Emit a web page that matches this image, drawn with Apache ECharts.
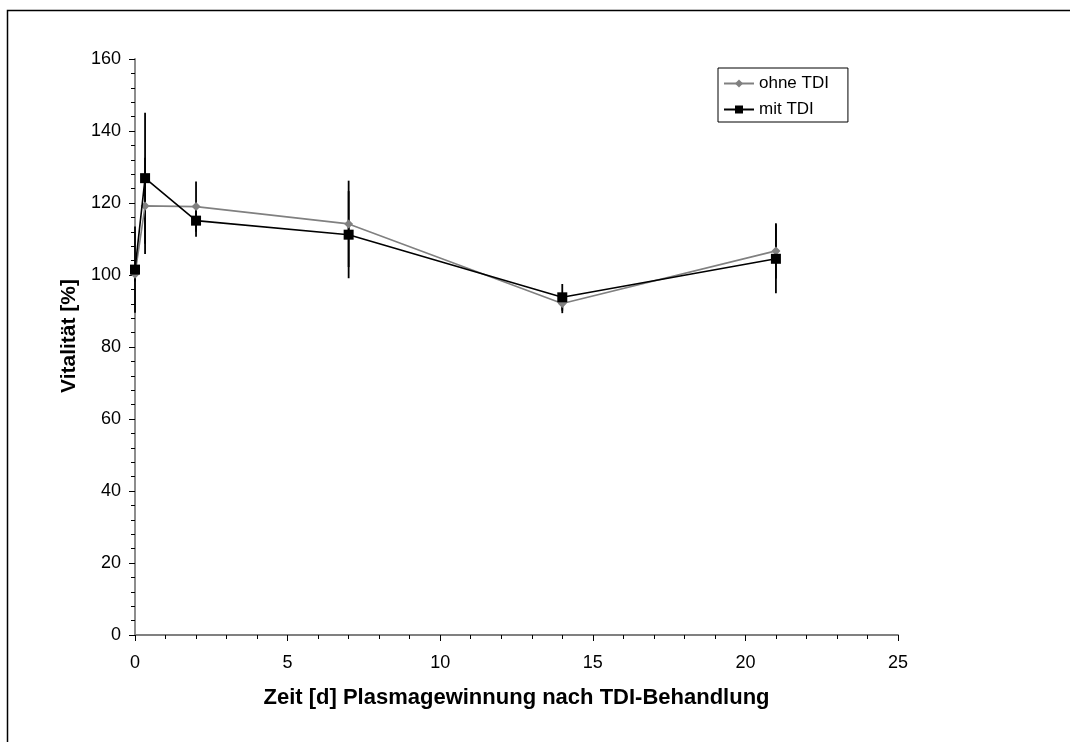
<!DOCTYPE html>
<html>
<head>
<meta charset="utf-8">
<script src="https://cdn.jsdelivr.net/npm/echarts@6/dist/echarts.min.js"></script>
<style>
html,body{margin:0;padding:0;background:#fff;}
#chart{width:1070px;height:742px;}
</style>
</head>
<body>
<div id="chart"></div>
<script>
// Data
const days = [0, 0.33, 2, 7, 14, 21];
const ohneTDI = [100.2, 119.2, 119.0, 114.2, 92.1, 106.7];
const mitTDI = [101.5, 126.9, 115.1, 111.2, 93.8, 104.5];
const ohneTDIErr = [2.0, 13.4, 7.0, 12.0, 2.7, 7.7];
const mitTDIErr = [12.0, 18.2, 4.5, 12.1, 3.7, 9.6];
const seriesNames = ['ohne TDI', 'mit TDI'];
const xTitle = 'Zeit [d] Plasmagewinnung nach TDI-Behandlung';
const yTitle = 'Vitalität [%]';

const font = '"Liberation Sans", Arial, sans-serif';

function pairs(xs, ys) { return xs.map((x, i) => [x, ys[i]]); }
function errData(xs, ys, es) { return xs.map((x, i) => [x, ys[i] - es[i], ys[i] + es[i]]); }

function errRender(params, api) {
  const x = api.value(0);
  const lo = api.coord([x, api.value(1)]);
  const hi = api.coord([x, api.value(2)]);
  return {
    type: 'line',
    shape: { x1: lo[0], y1: lo[1], x2: hi[0], y2: hi[1] },
    style: { stroke: '#000', lineWidth: 1.8 }
  };
}

const chart = echarts.init(document.getElementById('chart'), null, { renderer: 'canvas' });
chart.setOption({
  animation: false,
  backgroundColor: '#fff',
  textStyle: { fontFamily: font },
  graphic: [{
    type: 'rect',
    shape: { x: 7.5, y: 10.5, width: 1080, height: 760 },
    style: { fill: 'none', stroke: '#000', lineWidth: 1.5 },
    silent: true
  }],
  grid: { left: 135, right: 172, top: 59, bottom: 107, containLabel: false },
  legend: {
    data: seriesNames,
    orient: 'vertical',
    left: 718,
    top: 68,
    padding: [7, 19, 4, 5],
    itemGap: 9,
    itemWidth: 30,
    itemHeight: 10,
    borderColor: '#000',
    borderWidth: 1,
    textStyle: { fontFamily: font, fontSize: 17, color: '#000' }
  },
  xAxis: {
    type: 'value',
    min: 0, max: 25, interval: 5,
    name: xTitle,
    nameLocation: 'middle',
    nameGap: 52,
    nameTextStyle: { fontFamily: font, fontSize: 22, fontWeight: 'bold', color: '#000' },
    axisLine: { show: true, onZero: false, lineStyle: { color: '#808080', width: 1.8 } },
    axisTick: { show: true, inside: false, length: 6, lineStyle: { color: '#000', width: 1 } },
    minorTick: { show: true, splitNumber: 5, length: 4, lineStyle: { color: '#000', width: 1 } },
    axisLabel: { fontFamily: font, fontSize: 18, color: '#000', margin: 19 },
    splitLine: { show: false }
  },
  yAxis: {
    type: 'value',
    min: 0, max: 160, interval: 20,
    name: yTitle,
    nameLocation: 'middle',
    nameRotate: 90,
    nameGap: 51,
    nameTextStyle: { fontFamily: font, fontSize: 21, fontWeight: 'bold', color: '#000', padding: [0, 0, 0, 22] },
    axisLine: { show: true, onZero: false, lineStyle: { color: '#808080', width: 1.8 } },
    axisTick: { show: true, inside: false, length: 6, lineStyle: { color: '#000', width: 1 } },
    minorTick: { show: true, splitNumber: 5, length: 4, lineStyle: { color: '#000', width: 1 } },
    axisLabel: { fontFamily: font, fontSize: 18, color: '#000', margin: 14 },
    splitLine: { show: false }
  },
  series: [
    {
      type: 'custom',
      name: 'errOhne',
      renderItem: errRender,
      data: errData(days, ohneTDI, ohneTDIErr),
      encode: { x: 0, y: [1, 2] },
      z: 1,
      silent: true
    },
    {
      type: 'custom',
      name: 'errMit',
      renderItem: errRender,
      data: errData(days, mitTDI, mitTDIErr),
      encode: { x: 0, y: [1, 2] },
      z: 1,
      silent: true
    },
    {
      type: 'line',
      name: seriesNames[0],
      data: pairs(days, ohneTDI),
      symbol: 'diamond',
      symbolSize: 9,
      showAllSymbol: true,
      itemStyle: { color: '#808080' },
      lineStyle: { color: '#808080', width: 1.6 },
      z: 3
    },
    {
      type: 'line',
      name: seriesNames[1],
      data: pairs(days, mitTDI),
      symbol: 'rect',
      symbolSize: 10,
      showAllSymbol: true,
      itemStyle: { color: '#000' },
      lineStyle: { color: '#000', width: 1.6 },
      z: 4
    }
  ]
});
</script>
</body>
</html>
